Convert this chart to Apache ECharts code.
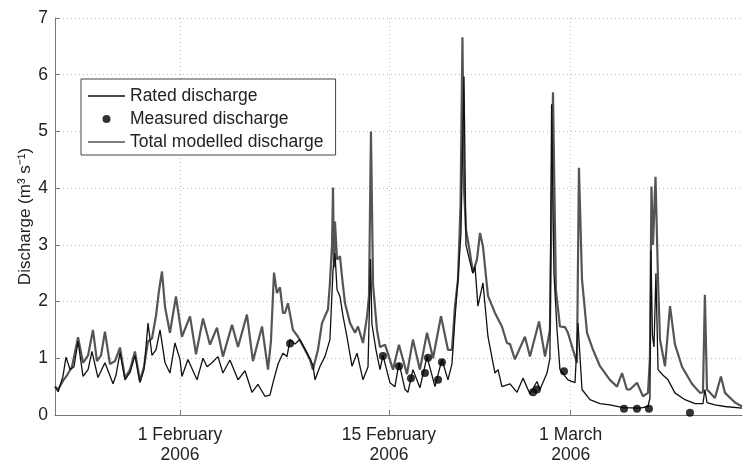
<!DOCTYPE html>
<html>
<head>
<meta charset="utf-8">
<script src="https://cdn.jsdelivr.net/npm/echarts@6/dist/echarts.min.js"></script>
<style>html,body{margin:0;padding:0;background:#fff}#c{width:743px;height:461px}</style>
</head>
<body>
<div id="c"></div>
<script>
// x values: days from the left edge of the plotted period (late January 2006)
const tickDays = [8.96, 23.94, 36.97];
const tickLabels = ['1 February\n2006', '15 February\n2006', '1 March\n2006'];

const modelDays = [0.00,0.22,0.57,0.86,1.22,1.65,2.01,2.37,2.72,3.01,3.30,3.58,3.94,4.30,4.66,5.02,5.38,5.73,6.09,6.38,6.67,6.95,7.24,7.46,7.67,7.89,8.24,8.67,9.10,9.68,10.11,10.61,11.11,11.61,12.04,12.69,13.12,13.76,14.19,14.84,15.27,15.48,15.70,15.91,16.13,16.34,16.49,16.70,17.06,17.42,17.92,18.28,18.49,18.85,19.14,19.35,19.57,19.71,19.86,19.93,20.00,20.07,20.22,20.43,20.57,20.79,21.15,21.51,21.72,22.08,22.37,22.51,22.65,22.80,23.08,23.30,23.66,24.23,24.66,25.23,25.66,26.16,26.67,27.10,27.67,28.17,28.46,28.67,28.89,29.07,29.21,29.32,29.46,29.75,29.96,30.25,30.47,30.68,31.04,31.54,32.04,32.40,32.62,32.97,33.69,34.05,34.70,35.13,35.48,35.70,35.91,36.20,36.56,36.77,37.28,37.42,37.56,37.78,38.14,38.57,39.07,39.78,40.29,40.65,41.00,41.22,41.72,42.15,42.51,42.65,42.76,42.87,43.05,43.23,43.37,43.73,44.09,44.44,44.95,45.66,46.24,46.45,46.59,46.74,47.31,47.74,48.03,48.75,49.25];
const modelQ = [0.50,0.45,0.60,0.70,0.85,1.37,0.92,1.05,1.50,0.95,1.05,1.47,0.90,0.95,1.19,0.65,0.80,1.12,0.60,0.85,1.30,1.35,1.75,2.20,2.53,1.90,1.45,2.09,1.38,1.74,1.07,1.70,1.24,1.54,1.03,1.59,1.20,1.77,0.95,1.56,0.80,1.30,2.51,2.15,2.25,1.80,1.80,1.97,1.50,1.38,1.15,0.98,0.80,1.15,1.62,1.74,1.86,2.33,3.00,4.01,2.60,3.41,2.74,2.80,2.45,1.97,1.62,1.45,1.56,1.27,1.74,2.10,5.00,2.30,1.50,1.20,1.24,0.80,1.24,0.72,1.33,0.80,1.45,1.00,1.74,1.15,1.15,1.91,2.39,3.68,6.66,4.00,3.27,2.86,2.51,2.74,3.21,2.97,2.10,1.80,1.56,1.27,1.25,0.98,1.38,1.03,1.65,1.03,1.50,5.69,2.20,1.56,1.55,1.45,1.03,0.92,4.36,2.39,1.45,1.15,0.86,0.62,0.50,0.74,0.45,0.45,0.57,0.33,0.39,1.00,4.03,3.00,4.20,2.39,1.33,0.86,1.92,1.25,0.85,0.55,0.39,0.40,2.12,0.45,0.30,0.68,0.39,0.22,0.15];

const ratedDays = [0.00,0.22,0.57,0.79,1.08,1.36,1.65,2.01,2.37,2.65,3.08,3.58,4.16,4.37,4.66,5.02,5.38,5.73,6.09,6.38,6.67,6.95,7.24,7.53,7.89,8.24,8.60,8.96,9.10,9.53,10.18,10.61,10.90,11.25,11.68,12.04,12.54,13.12,13.62,14.12,14.55,15.05,15.41,15.63,15.99,16.34,16.63,16.85,17.20,17.56,18.06,18.49,18.64,19.00,19.35,19.71,19.93,20.07,20.22,20.43,20.65,20.93,21.29,21.65,22.08,22.44,22.62,22.72,23.01,23.30,23.51,24.01,24.37,24.66,25.09,25.30,25.66,26.16,26.67,27.24,27.74,28.17,28.46,28.67,28.89,29.10,29.32,29.46,29.75,29.96,30.11,30.32,30.68,31.04,31.54,31.76,32.04,32.62,33.12,33.55,34.05,34.55,34.77,35.27,35.48,35.60,35.77,35.99,36.20,36.77,37.28,37.49,37.78,38.35,39.07,39.78,40.72,41.94,42.51,42.65,42.72,42.83,42.94,43.08,43.23,43.59,43.95,44.44,45.16,45.88,46.45,46.59,46.74,47.31,48.03,49.25];
const ratedQ = [0.50,0.41,0.68,1.02,0.80,0.85,1.30,0.68,0.80,1.12,0.66,0.92,0.55,0.70,1.10,0.62,0.75,1.05,0.57,0.80,1.62,1.05,1.15,1.50,0.92,0.74,1.27,0.98,0.68,0.98,0.62,1.00,0.85,0.92,1.03,0.74,0.97,0.62,0.78,0.40,0.54,0.33,0.35,0.57,0.90,1.09,1.03,1.33,1.25,1.33,1.10,0.88,0.62,0.86,1.03,1.33,2.55,2.85,2.21,2.09,1.74,1.38,0.86,1.09,0.62,0.85,2.75,1.60,1.15,0.80,1.05,0.57,0.50,0.92,0.45,0.40,0.80,0.48,1.03,0.50,0.98,0.62,0.90,1.69,2.40,3.20,5.97,3.00,2.70,2.50,2.62,1.92,2.33,1.38,0.74,0.80,0.50,0.55,0.40,0.65,0.37,0.59,0.45,0.74,1.00,5.48,2.50,1.50,0.80,0.62,0.57,1.62,0.45,0.27,0.20,0.18,0.13,0.12,0.15,0.30,2.90,1.40,1.20,2.50,0.80,0.70,0.62,0.39,0.27,0.20,0.20,0.45,0.22,0.18,0.15,0.12];

const measDays = [16.85,23.51,24.66,25.52,26.52,26.74,27.46,27.74,34.27,34.55,36.49,40.79,41.72,42.58,45.52];
const measQ = [1.26,1.04,0.86,0.65,0.74,1.01,0.62,0.93,0.40,0.45,0.77,0.11,0.11,0.11,0.04];

const zip = (a, b) => a.map((v, i) => [v, b[i]]);

const chart = echarts.init(document.getElementById('c'), null, {renderer: 'canvas'});
const font = 'Liberation Sans, Arial, Helvetica, sans-serif';
const lineIcon = 'path://M0 0H37V1.6H0Z';
chart.setOption({
  animation: false,
  backgroundColor: '#fff',
  textStyle: {fontFamily: font},
  grid: {left: 55, right: 1, top: 18, bottom: 46, containLabel: false, outerBoundsMode: 'none'},
  legend: {
    orient: 'vertical', left: 81, top: 79,
    backgroundColor: '#fff', borderColor: '#444', borderWidth: 1,
    padding: [8, 12, 4, 7], itemGap: 5, itemWidth: 37, itemHeight: 8,
    textStyle: {fontFamily: font, fontSize: 17.5, color: '#222', lineHeight: 18},
    data: [
      {name: 'Rated discharge', icon: lineIcon},
      {name: 'Measured discharge', icon: 'circle'},
      {name: 'Total modelled discharge', icon: lineIcon}
    ]
  },
  xAxis: {
    type: 'value', min: 0, max: 49.25,
    axisLine: {show: true, lineStyle: {color: '#777', width: 1}},
    axisTick: {show: true, inside: true, length: 5, customValues: tickDays, lineStyle: {color: '#777'}},
    axisLabel: {
      customValues: tickDays, margin: 10, fontSize: 17.5, color: '#222', lineHeight: 20, fontFamily: font,
      formatter: v => { const i = tickDays.indexOf(v); return i >= 0 ? tickLabels[i] : ''; }
    },
    splitLine: {show: true, lineStyle: {color: '#bbb', type: [1, 3], width: 1}}
  },
  yAxis: {
    type: 'value', min: 0, max: 7, interval: 1,
    name: 'Discharge (m³ s⁻¹)', nameLocation: 'middle', nameGap: 21, nameMoveOverlap: false,
    nameTextStyle: {fontSize: 17, color: '#222', fontFamily: font},
    axisLine: {show: true, lineStyle: {color: '#777', width: 1}},
    axisTick: {show: true, inside: true, length: 5, lineStyle: {color: '#777'}},
    axisLabel: {fontSize: 17.5, color: '#222', margin: 7, fontFamily: font},
    splitLine: {show: true, lineStyle: {color: '#bbb', type: [1, 3], width: 1}}
  },
  series: [
    {
      name: 'Total modelled discharge', type: 'line', data: zip(modelDays, modelQ),
      showSymbol: false, symbol: 'none', z: 2,
      lineStyle: {color: '#555', width: 2.2}, itemStyle: {color: '#555'}
    },
    {
      name: 'Rated discharge', type: 'line', data: zip(ratedDays, ratedQ),
      showSymbol: false, symbol: 'none', z: 3,
      lineStyle: {color: '#111', width: 1.3}, itemStyle: {color: '#111'}
    },
    {
      name: 'Measured discharge', type: 'scatter', data: zip(measDays, measQ),
      symbol: 'circle', symbolSize: 8, z: 4,
      itemStyle: {color: '#000'}
    }
  ]
});
</script>
</body>
</html>
